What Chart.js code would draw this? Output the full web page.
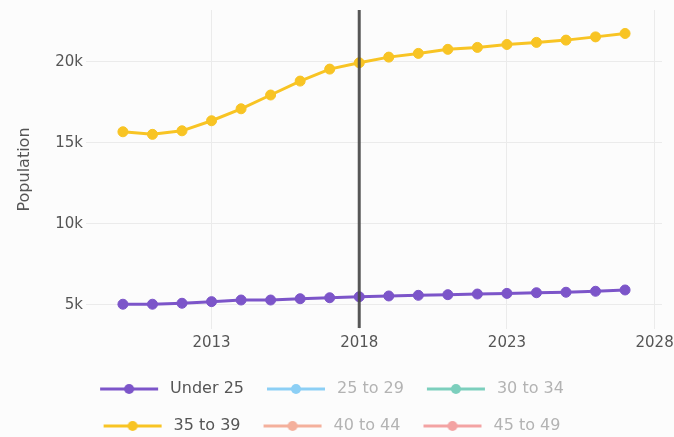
<!DOCTYPE html>
<html>
<head>
<meta charset="utf-8">
<script src="https://cdn.jsdelivr.net/npm/chart.js@4"></script>
<style>
  html, body { margin: 0; padding: 0; background: #fcfcfc; }
  #wrap { width: 674px; height: 437px; }
</style>
</head>
<body>
<div id="wrap"><canvas id="c" width="674" height="437"></canvas></div>
<script>
// ---- data ----
const years = [2010, 2011, 2012, 2013, 2014, 2015, 2016, 2017, 2018, 2019, 2020, 2021, 2022, 2023, 2024, 2025, 2026, 2027];
const under25 = [5030, 5030, 5090, 5190, 5290, 5290, 5370, 5430, 5490, 5540, 5580, 5620, 5660, 5700, 5740, 5770, 5830, 5910];
const age25to29 = [];
const age30to34 = [];
const age35to39 = [15680, 15520, 15740, 16360, 17100, 17950, 18810, 19550, 19940, 20290, 20520, 20770, 20890, 21070, 21200, 21340, 21540, 21750];
const age40to44 = [];
const age45to49 = [];
const seriesNames = ['Under 25', '25 to 29', '30 to 34', '35 to 39', '40 to 44', '45 to 49'];
const xTicks = [2013, 2018, 2023, 2028];
const yTicks = [5000, 10000, 15000, 20000];
const markerYear = 2018;

// ---- styles ----
const FONT = "'DejaVu Sans', sans-serif";
const seriesColors = ['#7c55c9', '#8ccff5', '#7ccfbd', '#f8c424', '#f4b09c', '#f3a3a3'];
const legendTextColors = ['#555555', '#b3b3b3', '#b3b3b3', '#555555', '#b3b3b3', '#b3b3b3'];
const seriesValues = [under25, age25to29, age30to34, age35to39, age40to44, age45to49];

function legendIcon(color) {
  const cv = document.createElement('canvas');
  cv.width = 64; cv.height = 14;
  const g = cv.getContext('2d');
  g.strokeStyle = color; g.lineWidth = 3;
  g.beginPath(); g.moveTo(2, 7); g.lineTo(60, 7); g.stroke();
  g.fillStyle = color;
  g.beginPath(); g.arc(31, 7, 5, 0, Math.PI * 2); g.fill();
  return cv;
}
const icons = seriesColors.map(legendIcon);

const datasets = seriesNames.map((name, i) => ({
  label: name,
  data: seriesValues[i].map((v, j) => ({x: years[j], y: v})),
  borderColor: seriesColors[i],
  backgroundColor: seriesColors[i],
  borderWidth: 3,
  pointRadius: 5,
  pointBorderWidth: 1,
  pointHoverRadius: 5,
  tension: 0
}));

const markerLine = {
  id: 'markerLine',
  afterDatasetsDraw(chart) {
    const x = chart.scales.x.getPixelForValue(markerYear);
    const {top, bottom} = chart.chartArea;
    const ctx = chart.ctx;
    ctx.save();
    ctx.strokeStyle = 'rgba(70,70,70,0.9)';
    ctx.lineWidth = 3;
    ctx.beginPath();
    ctx.moveTo(x, top);
    ctx.lineTo(x, bottom - 1);
    ctx.stroke();
    ctx.restore();
  }
};

const bg = {
  id: 'bg',
  beforeDraw(chart) {
    const ctx = chart.ctx;
    ctx.save();
    ctx.fillStyle = '#fcfcfc';
    ctx.fillRect(0, 0, chart.width, chart.height);
    ctx.restore();
  }
};

new Chart(document.getElementById('c'), {
  type: 'line',
  data: { datasets },
  plugins: [bg, markerLine],
  options: {
    responsive: false,
    animation: false,
    events: [],
    layout: { padding: { top: 10, left: 0, right: 12, bottom: -7 } },
    scales: {
      x: {
        type: 'linear',
        min: 2008.75,
        max: 2028.25,
        afterBuildTicks(scale) { scale.ticks = xTicks.map(v => ({value: v})); },
        afterFit(scale) { scale.height = 31; scale.paddingLeft = 0; scale.paddingRight = 0; },
        grid: { color: '#ebebeb', lineWidth: 1, drawTicks: false },
        border: { display: false },
        ticks: {
          padding: 5,
          color: '#555',
          font: { family: FONT, size: 15 },
          maxRotation: 0,
          callback: v => String(v)
        }
      },
      y: {
        min: 3500,
        max: 23200,
        afterBuildTicks(scale) { scale.ticks = yTicks.map(v => ({value: v})); },
        afterFit(scale) { scale.width = 86; scale.paddingTop = 0; scale.paddingBottom = 0; },
        grid: { color: '#ebebeb', lineWidth: 1, drawTicks: false },
        border: { display: false },
        ticks: {
          padding: 3,
          color: '#555',
          font: { family: FONT, size: 15 },
          callback: v => (v / 1000) + 'k'
        },
        title: {
          display: true,
          text: 'Population',
          color: '#555',
          font: { family: FONT, size: 16 },
          padding: { top: 15, bottom: 0 }
        }
      }
    },
    plugins: {
      tooltip: { enabled: false },
      legend: {
        position: 'bottom',
        labels: {
          usePointStyle: true,
          pointStyleWidth: 64,
          padding: 21,
          font: { family: FONT, size: 16 },
          generateLabels(chart) {
            return chart.data.datasets.map((ds, i) => ({
              text: ds.label,
              pointStyle: icons[i],
              fillStyle: seriesColors[i],
              strokeStyle: seriesColors[i],
              fontColor: legendTextColors[i],
              lineWidth: 0,
              hidden: false,
              datasetIndex: i
            }));
          }
        }
      }
    }
  }
});
</script>
</body>
</html>
